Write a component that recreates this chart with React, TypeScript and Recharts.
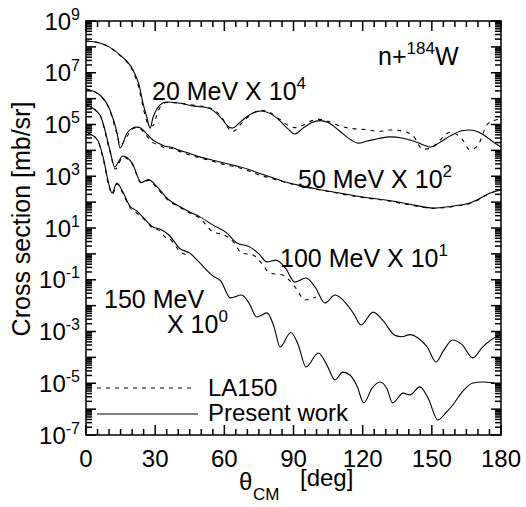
import { LineChart, Line, XAxis, YAxis } from 'recharts'

// angles in degrees, cross sections given as log10 of the scaled value (mb/sr)
const theta20 = [0, 6, 10, 14.7, 18, 20.4, 23, 24.7, 26.5, 27.8, 29, 30.5, 32, 35, 40, 47, 53, 59.4, 61, 63.5, 67, 71, 76, 80, 84, 88, 90.5, 94, 98, 101.5, 105, 110, 115, 118, 122, 127, 132, 137, 142, 146, 149.6, 153, 158, 163, 166.5, 170, 174, 177, 180]
const present20 = [8.23, 8.15, 8.0, 7.69, 7.42, 7.11, 6.53, 5.83, 5.25, 4.86, 5.25, 5.56, 5.75, 5.87, 5.83, 5.71, 5.64, 5.17, 4.98, 4.86, 5.1, 5.38, 5.52, 5.42, 5.15, 4.8, 4.63, 4.85, 5.08, 5.15, 5.08, 4.75, 4.4, 4.28, 4.36, 4.46, 4.52, 4.48, 4.36, 4.22, 4.13, 4.28, 4.56, 4.76, 4.79, 4.72, 4.5, 4.3, 4.13]
const la150_20 = [8.23, 8.15, 8.0, 7.67, 7.38, 7.05, 6.4, 5.7, 5.1, 4.98, 4.95, 5.3, 5.65, 5.85, 5.83, 5.74, 5.66, 5.2, 4.95, 4.72, 5.0, 5.35, 5.55, 5.45, 5.2, 4.95, 4.88, 4.97, 5.15, 5.2, 5.12, 4.95, 4.85, 4.82, 4.8, 4.73, 4.79, 4.75, 4.55, 4.05, 4.08, 4.35, 4.7, 4.45, 4.02, 4.2, 5.0, 5.15, 5.25]

const theta50 = [0, 6, 10.4, 13.5, 14.8, 17.8, 20, 22, 24, 26, 29, 32, 34, 37, 40, 45, 50, 55, 60, 65, 70, 75, 80, 85, 90, 95, 100, 110, 120, 130, 140, 150.5, 155, 160, 166.5, 170, 173.5, 177, 180]
const present50 = [6.37, 6.14, 5.56, 4.67, 4.09, 4.67, 4.85, 4.9, 4.85, 4.67, 4.4, 4.25, 4.17, 4.12, 4.02, 3.88, 3.73, 3.62, 3.51, 3.4, 3.28, 3.12, 2.97, 2.82, 2.7, 2.6, 2.51, 2.35, 2.2, 2.08, 1.93, 1.77, 1.8, 1.86, 1.97, 2.1, 2.28, 2.4, 2.47]
const la150_50 = [6.37, 6.13, 5.52, 4.6, 4.2, 4.55, 4.82, 4.88, 4.8, 4.6, 4.3, 4.2, 4.1, 4.08, 3.98, 3.82, 3.7, 3.58, 3.45, 3.36, 3.22, 3.05, 2.93, 2.8, 2.68, 2.58, 2.5, 2.33, 2.18, 2.06, 1.9, 1.76, 1.78, 1.84, 1.95, 2.08, 2.27, 2.4, 2.46]

const theta100 = [0, 6, 10.4, 12.4, 16, 20, 24, 27, 31, 35, 41, 45, 49.4, 55, 61, 65.5, 71, 75, 78.5, 82.4, 86.5, 90.6, 95.4, 99.5, 103.6, 108, 112.7, 116, 119.3, 124.5, 129, 134, 137, 140.5, 144, 148, 151.8, 155, 159, 163, 167.8, 172, 177.8, 180]
const present100 = [5.75, 5.37, 4.01, 3.36, 3.78, 3.51, 2.76, 2.87, 2.58, 2.16, 1.81, 1.62, 1.43, 1.12, 0.81, 0.42, 0.27, 0.0, -0.31, -0.24, -0.55, -1.09, -0.93, -1.3, -1.9, -1.59, -1.9, -2.3, -2.75, -2.25, -2.6, -3.15, -3.2, -3.12, -3.25, -3.6, -4.18, -3.75, -3.33, -3.5, -4.02, -3.6, -3.21, -3.14]
const thetaLa100 = [0, 6, 10.4, 12.8, 16, 20, 24, 27, 31, 35, 41, 45, 49.4, 55, 60, 64, 67.6, 72.4, 76, 79.8, 85.4, 88, 91, 95, 99.7]
const la150_100 = [5.75, 5.36, 3.95, 3.28, 3.74, 3.48, 2.74, 2.84, 2.52, 2.13, 1.78, 1.58, 1.38, 0.85, 0.73, 0.45, 0.03, -0.04, -0.35, -0.74, -0.82, -1.0, -1.32, -1.78, -1.67]

const theta150 = [0, 5, 7.5, 10, 11.3, 13.4, 16, 19, 22, 25, 29, 32, 36, 40.8, 45, 49.4, 55, 58.5, 62.6, 67.5, 71, 74, 78.5, 81.5, 84.2, 88.8, 92, 95.4, 100.8, 104.5, 108, 111.4, 114.5, 117.5, 120.5, 124, 127.5, 130.5, 133, 137.5, 140.5, 144.8, 148.5, 152.6, 156, 159, 163, 167.8, 172, 176.5, 180]
const present150 = [4.71, 4.4, 3.71, 2.66, 2.35, 2.74, 2.39, 1.85, 1.66, 1.39, 1.04, 0.96, 0.73, 0.2, 0.03, -0.35, -0.85, -1.05, -1.7, -1.59, -1.95, -2.44, -2.28, -2.8, -3.6, -3.04, -3.5, -4.37, -3.83, -4.3, -4.87, -4.57, -4.68, -5.1, -5.76, -5.2, -4.95, -5.2, -5.76, -5.38, -5.45, -5.14, -5.6, -6.42, -6.15, -5.85, -5.35, -4.99, -4.95, -4.99, -5.11]
const thetaLa150 = [0, 5, 7.5, 10, 11.5, 13.4, 16, 19, 22, 25, 29, 32, 34.3, 36, 41.6, 45]
const la150_150 = [4.71, 4.4, 3.65, 2.6, 2.3, 2.7, 2.33, 1.8, 1.58, 1.35, 1.0, 0.9, 0.65, 0.6, 0.03, -0.05]

const xTickLabels = [0, 30, 60, 90, 120, 150, 180]
const xMinorTicks = Array.from({ length: 37 }, (_, i) => i * 5)
const yLabelExps = [9, 7, 5, 3, 1, -1, -3, -5, -7]
const yLabelTicks = yLabelExps.map((e) => Math.pow(10, e))
const yMajorTicks = Array.from({ length: 17 }, (_, i) => Math.pow(10, i - 7))
const yMinorTicks: number[] = []
for (let e = -7; e < 9; e++) for (let m = 2; m <= 9; m++) yMinorTicks.push(m * Math.pow(10, e))

const FONT = '"Liberation Sans", Arial, sans-serif'
const X_DOMAIN: [number, number] = [0, 180]
const Y_DOMAIN: [number, number] = [1e-7, 1e9]
// plot area produced by the chart margins below
const PLOT = { left: 86, right: 501, top: 21, bottom: 435 }

const toPoints = (xs: number[], logs: number[]) => xs.map((x, i) => ({ x, y: Math.pow(10, logs[i]) }))

// same mapping as the chart axes, used for the frame ticks only
const px = (d: number) => PLOT.left + ((d - X_DOMAIN[0]) / (X_DOMAIN[1] - X_DOMAIN[0])) * (PLOT.right - PLOT.left)
const py = (v: number) =>
  PLOT.bottom - ((Math.log10(v) - Math.log10(Y_DOMAIN[0])) / (Math.log10(Y_DOMAIN[1]) - Math.log10(Y_DOMAIN[0]))) * (PLOT.bottom - PLOT.top)

function XLabel(props: any) {
  const { payload, y } = props
  return (
    <text x={payload.coordinate} y={y + 32} textAnchor="middle" fontSize={24} fontFamily={FONT} fill="#000">
      {Math.round(payload.value)}
    </text>
  )
}

function YLabel(props: any) {
  const { payload } = props
  const e = Math.round(Math.log10(payload.value))
  return (
    <text x={80} y={payload.coordinate + 8.5} textAnchor="end" fontSize={24} fontFamily={FONT} fill="#000">
      10<tspan dy={-10} fontSize={16}>{e}</tspan>
    </text>
  )
}

function Sup({ base, exp, x, y }: { base: string; exp: string; x: number; y: number }) {
  return (
    <text x={x} y={y} fontSize={25} fontFamily={FONT} fill="#000">
      {base}<tspan dy={-11} fontSize={17}>{exp}</tspan>
    </text>
  )
}

function Frame() {
  const lines: JSX.Element[] = []
  xMinorTicks.forEach((d, i) => {
    const len = d % 30 === 0 ? 10 : 6
    const x = px(d)
    lines.push(<line key={`xb${i}`} x1={x} x2={x} y1={PLOT.bottom} y2={PLOT.bottom - len} />)
    lines.push(<line key={`xt${i}`} x1={x} x2={x} y1={PLOT.top} y2={PLOT.top + len} />)
  })
  const yTick = (v: number, len: number, k: string) => {
    const y = py(v)
    lines.push(<line key={`yl${k}`} x1={PLOT.left} x2={PLOT.left + len} y1={y} y2={y} />)
    lines.push(<line key={`yr${k}`} x1={PLOT.right} x2={PLOT.right - len} y1={y} y2={y} />)
  }
  yMajorTicks.forEach((v, i) => yTick(v, 10, `M${i}`))
  yMinorTicks.forEach((v, i) => yTick(v, 6, `m${i}`))
  return (
    <g>
      <rect x={PLOT.left} y={PLOT.top} width={PLOT.right - PLOT.left} height={PLOT.bottom - PLOT.top}
        fill="none" stroke="#000" strokeWidth={1.5} />
      <g stroke="#000" strokeWidth={1.5}>{lines}</g>
    </g>
  )
}

export default function App() {
  const solid = { stroke: '#000', strokeWidth: 1.1, dot: false, type: 'monotone' as const, isAnimationActive: false }
  const dashed = { ...solid, strokeDasharray: '4 5' }
  return (
    <div style={{ position: 'absolute', left: 0, top: 0, width: 526, height: 507, background: '#fff' }}>
      <LineChart width={526} height={507} margin={{ top: 21, right: 25, bottom: 42, left: 0 }}>
        <XAxis dataKey="x" type="number" domain={X_DOMAIN} ticks={xTickLabels} interval={0} tickSize={0} tickMargin={0}
          tickLine={false} axisLine={false} tick={<XLabel />} height={30} allowDataOverflow />
        <YAxis type="number" scale="log" domain={Y_DOMAIN} ticks={yLabelTicks} interval={0} tickSize={0} tickMargin={0}
          tickLine={false} axisLine={false} tick={<YLabel />} width={86} allowDataOverflow />
        <Line data={toPoints(theta20, la150_20)} dataKey="y" {...dashed} />
        <Line data={toPoints(theta50, la150_50)} dataKey="y" {...dashed} />
        <Line data={toPoints(thetaLa100, la150_100)} dataKey="y" {...dashed} />
        <Line data={toPoints(thetaLa150, la150_150)} dataKey="y" {...dashed} />
        <Line data={toPoints(theta20, present20)} dataKey="y" {...solid} />
        <Line data={toPoints(theta50, present50)} dataKey="y" {...solid} />
        <Line data={toPoints(theta100, present100)} dataKey="y" {...solid} />
        <Line data={toPoints(theta150, present150)} dataKey="y" {...solid} />
      </LineChart>
      <svg width={526} height={507} style={{ position: 'absolute', left: 0, top: 0, pointerEvents: 'none' }}>
        <Frame />
        <text x={378} y={65} fontSize={25} fontFamily={FONT} fill="#000">
          n+<tspan dy={-11} fontSize={17}>184</tspan><tspan dy={11}>W</tspan>
        </text>
        <Sup base="20 MeV X 10" exp="4" x={152} y={100} />
        <Sup base="50 MeV X 10" exp="2" x={298} y={188} />
        <Sup base="100 MeV X 10" exp="1" x={280} y={267} />
        <text x={104} y={308} fontSize={25} fontFamily={FONT} fill="#000">150 MeV</text>
        <Sup base="X 10" exp="0" x={167} y={333} />
        <line x1={97} x2={196} y1={388} y2={388} stroke="#000" strokeWidth={1.1} strokeDasharray="4 5" />
        <text x={208} y={396} fontSize={24} fontFamily={FONT} fill="#000">LA150</text>
        <line x1={97} x2={198} y1={414} y2={414} stroke="#000" strokeWidth={1.1} />
        <text x={208} y={421} fontSize={24} fontFamily={FONT} fill="#000">Present work</text>
        <text transform="translate(30,219) rotate(-90)" textAnchor="middle" fontSize={25} fontFamily={FONT} fill="#000">
          Cross section [mb/sr]
        </text>
        <text x={239} y={490} fontSize={24} fontFamily={FONT} fill="#000">θ</text>
        <text x={253} y={500} fontSize={17} fontFamily={FONT} fill="#000">CM</text>
        <text x={300} y={486} fontSize={24} fontFamily={FONT} fill="#000">[deg]</text>
      </svg>
    </div>
  )
}
